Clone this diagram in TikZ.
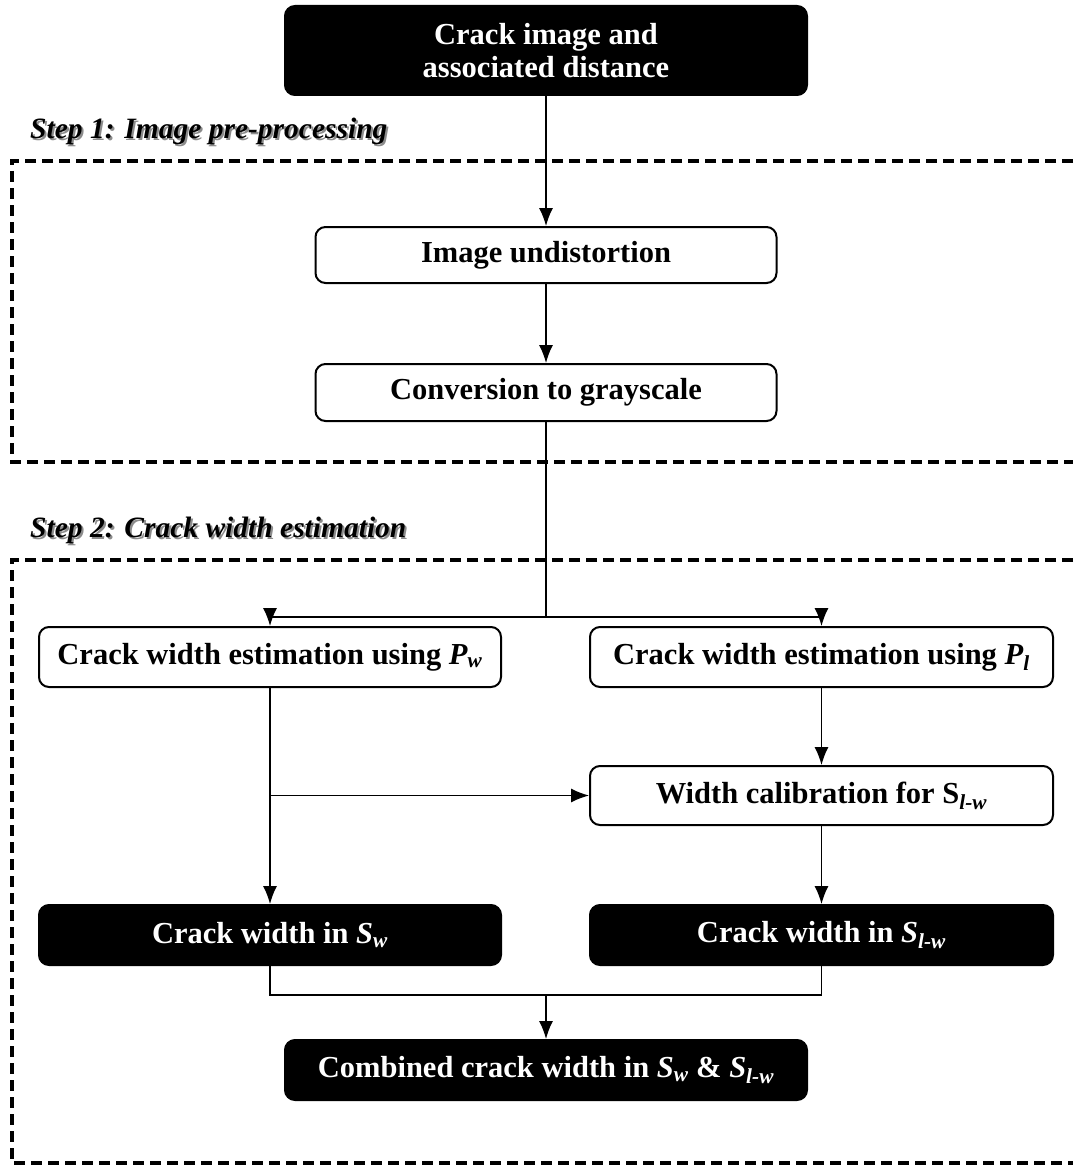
\documentclass[tikz,border=0pt]{standalone}
\usepackage{fontspec}
\setmainfont{Liberation Serif}
\usetikzlibrary{arrows.meta,calc}
\tikzset{
  wbox/.style={draw=black, line width=2pt, rounded corners=10pt, fill=white, align=center, inner sep=0pt,
    font=\bfseries\fontsize{30.5}{33}\selectfont},
  bbox/.style={wbox, fill=black, text=white},
  arr/.style={line width=1.3pt, -{Latex[length=18pt,width=14pt]}},
  ln/.style={line width=1.3pt},
  stepframe/.style={line width=3.5pt, dash pattern=on 11pt off 6pt},
  steplabel/.style={anchor=west, inner sep=0pt, font=\bfseries\itshape\fontsize{29.5}{33}\selectfont},
}
\newcommand{\Sw}{\textit{S}\textsubscript{\textit{w}}}
\newcommand{\Slw}{\textit{S}\textsubscript{\textit{l-w}}}
\begin{document}
\begin{tikzpicture}[x=1pt,y=-1pt]
\useasboundingbox (0,0) rectangle (1073,1169);
% dashed frames
\draw[stepframe] (1073,161) -- (12,161) -- (12,462) -- (1073,462);
\draw[stepframe] (1073,560) -- (12,560) -- (12,1163) -- (1073,1163);
% step labels with shadow
\node[steplabel, text=black!45] (s1s) at (32,133) {Step 1: Image pre-processing};
\node[steplabel] (s1) at (30,131) {Step 1: Image pre-processing};
\node[steplabel, text=black!45] (s2s) at (32,532) {Step 2: Crack width estimation};
\node[steplabel] (s2) at (30,530) {Step 2: Crack width estimation};
% nodes
\node[bbox, minimum width=522pt, minimum height=89pt] (top) at (546,50.5) {Crack image and\\associated distance};
\node[wbox, minimum width=461pt, minimum height=56pt] (und) at (546,255) {Image undistortion};
\node[wbox, minimum width=461pt, minimum height=57pt] (gray) at (546,392.5) {Conversion to grayscale};
\node[wbox, minimum width=462pt, minimum height=60pt] (pw) at (270,657) {Crack width estimation using \textit{P}\textsubscript{\textit{w}}};
\node[wbox, minimum width=463pt, minimum height=60pt] (pl) at (821.5,657) {Crack width estimation using \textit{P}\textsubscript{\textit{l}}};
\node[wbox, minimum width=463pt, minimum height=59pt] (cal) at (821.5,795.5) {Width calibration for S\textsubscript{\textit{l-w}}};
\node[bbox, minimum width=462pt, minimum height=60pt] (sw) at (270,935) {Crack width in \Sw};
\node[bbox, minimum width=463pt, minimum height=60pt] (slw) at (821.5,935) {Crack width in \Slw};
\node[bbox, minimum width=522pt, minimum height=60pt] (comb) at (546,1070) {Combined crack width in \Sw{} \& \Slw};
% connectors
\draw[arr] (top.south) -- (und.north);
\draw[arr] (und.south) -- (gray.north);
\coordinate (split) at ($(gray.south)+(0,195)$);
\draw[ln] (gray.south) -- (split);
\draw[arr] (split) -| (pw.north);
\draw[arr] (split) -| (pl.north);
\draw[arr] (pl.south) -- (cal.north);
\draw[arr] (cal.south) -- (slw.north);
\draw[arr] (pw.south) -- (sw.north);
\coordinate (br) at (pw.south |- cal.west);
\draw[arr] (br) -- (cal.west);
\coordinate (join) at ($(comb.north)+(0,-44)$);
\draw[ln] (sw.south) |- (join) -| (slw.south);
\draw[arr] (join) -- (comb.north);
\end{tikzpicture}
\end{document}
